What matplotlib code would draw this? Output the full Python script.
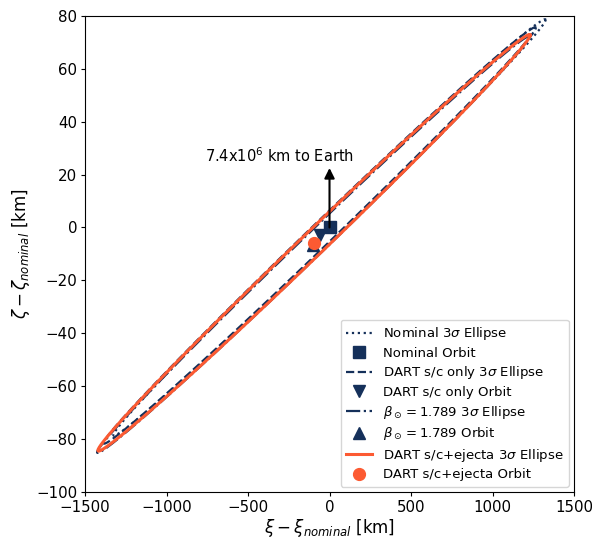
import numpy as np
import matplotlib
matplotlib.use('Agg')
import matplotlib.pyplot as plt

# orbit positions in the b-plane [km]
nominal_orbit = (0.0, 0.0)
sc_only_orbit = (-60.0, -3.0)
beta_orbit = (-100.0, -6.5)
ejecta_orbit = (-95.0, -5.8)

# 3-sigma ellipse shape: half-length along xi, matching rise in zeta, half-thickness in zeta
ell_xi_half = 1326.0
ell_zeta_rise = 78.5
ell_zeta_half = 6.2
ell_zeta_half_dark = 5.9

navy = '#15305a'
orange = '#fc5a32'


def ellipse(center, half):
    t = np.linspace(0, 2 * np.pi, 800)
    x = center[0] + ell_xi_half * np.cos(t)
    y = center[1] + ell_zeta_rise * np.cos(t) + half * np.sin(t)
    return x, y


fig = plt.figure(figsize=(5.92, 5.38), dpi=100)
ax = fig.add_axes([0.1436, 0.0855, 0.826, 0.885])

x, y = ellipse(nominal_orbit, ell_zeta_half_dark)
ax.plot(x, y, ':', color=navy, lw=1.6, label=r'Nominal 3$\sigma$ Ellipse')
ax.plot(*nominal_orbit, 's', color=navy, ms=8, ls='none', label='Nominal Orbit')

x, y = ellipse(sc_only_orbit, ell_zeta_half_dark)
ax.plot(x, y, '--', color=navy, lw=1.6, label=r'DART s/c only 3$\sigma$ Ellipse')
ax.plot(*sc_only_orbit, 'v', color=navy, ms=8, ls='none', label='DART s/c only Orbit')

x, y = ellipse(beta_orbit, ell_zeta_half_dark)
ax.plot(x, y, '-.', color=navy, lw=1.6, label=r'$\beta_\odot = 1.789$ 3$\sigma$ Ellipse')
ax.plot(*beta_orbit, '^', color=navy, ms=8, ls='none', label=r'$\beta_\odot = 1.789$ Orbit')

x, y = ellipse(ejecta_orbit, ell_zeta_half)
ax.plot(x, y, '-', color=orange, lw=2.2, label=r'DART s/c+ejecta 3$\sigma$ Ellipse')
ax.plot(*ejecta_orbit, 'o', color=orange, ms=8.5, ls='none', label='DART s/c+ejecta Orbit')

# direction to Earth
ax.annotate('', xy=(0, 22.5), xytext=(0, 0),
            arrowprops=dict(arrowstyle='-|>', color='k', lw=1.5, mutation_scale=15,
                            shrinkA=0, shrinkB=0))
ax.text(-305, 27, r'7.4x10$^6$ km to Earth', ha='center', va='center', fontsize=10.5)

ax.set_xlim(-1500, 1500)
ax.set_ylim(-100, 80)
ax.set_xlabel(r'$\xi - \xi_{nominal}$ [km]', fontsize=12, labelpad=2)
ax.set_ylabel(r'$\zeta - \zeta_{nominal}$ [km]', fontsize=12, labelpad=3)
ax.tick_params(labelsize=10.8, length=3, pad=2.5)
ax.legend(loc='lower right', fontsize=9.5, labelspacing=0.35, borderaxespad=0.4)

fig.savefig('out.png', dpi=100)
